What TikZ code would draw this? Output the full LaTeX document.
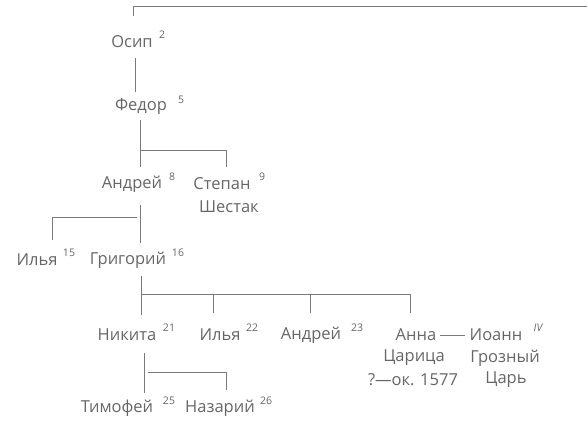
\documentclass[tikz,border=0pt]{standalone}
\usepackage{fontspec}
\setmainfont{Open Sans}
\definecolor{txt}{HTML}{666666}
\definecolor{ln}{HTML}{7A7A7A}
\begin{document}
\begin{tikzpicture}[x=1pt,y=-1pt,
  person/.style={text=txt,font=\fontsize{16.5}{19}\selectfont,inner sep=0pt,anchor=center},
  sup/.style={text=txt,font=\fontsize{10.5}{12}\selectfont,inner sep=0pt,anchor=center},
  link/.style={draw=ln,line width=0.9pt}]
\useasboundingbox (0,0) rectangle (588,422);
% names
\node[person] (osip) at (132,42) {Осип};
\node[sup] (s2) at (162,35) {2};
\node[person] (fedor) at (141,107) {Федор};
\node[sup] (s5) at (181,100) {5};
\node[person] (andrey8) at (132,184) {Андрей};
\node[sup] (s8) at (172,177) {8};
\node[person] (stepan) at (222,184) {Степан};
\node[sup] (s9) at (262,177) {9};
\node[person] (shestak) at (229,207) {Шестак};
\node[person] (ilya15) at (37,260) {Илья};
\node[sup] (s15) at (69,253) {15};
\node[person] (grigoriy) at (128,260) {Григорий};
\node[sup] (s16) at (178,253) {16};
\node[person] (nikita) at (127,335) {Никита};
\node[sup] (s21) at (169,328) {21};
\node[person] (ilya22) at (220,335) {Илья};
\node[sup] (s22) at (252,328) {22};
\node[person] (andrey23) at (311,335) {Андрей};
\node[sup] (s23) at (357,328) {23};
\node[person] (anna) at (416,335) {Анна};
\node[person] (tsaritsa) at (414,358) {Царица};
\node[person] (dates) at (413,380) {?—ок. 1577};
\node[person] (ioann) at (496,335) {Иоанн};
\node[sup] (sIV) at (538,328) {\itshape IV};
\node[person] (grozny) at (505,358) {Грозный};
\node[person] (tsar) at (506,380) {Царь};
\node[person] (timofey) at (117,408) {Тимофей};
\node[sup] (s25) at (169,401) {25};
\node[person] (nazariy) at (220,408) {Назарий};
\node[sup] (s26) at (266,401) {26};
% connector points
\coordinate (t0) at (133,16);
\coordinate (t1) at (133,6);
\coordinate (t2) at (587,6);
\coordinate (o1) at (135,58);
\coordinate (o2) at (135,92);
\coordinate (f1) at (140,120);
\coordinate (bf) at (140,150);
\coordinate (f2) at (140,167);
\coordinate (st) at (226,167);
\coordinate (a1) at (140,205);
\coordinate (a2) at (140,243);
\coordinate (ba) at (137,217);
\coordinate (il) at (52,240);
\coordinate (g1) at (141,276);
\coordinate (bg) at (141,294);
\coordinate (g2) at (141,315);
\coordinate (c22) at (213,313);
\coordinate (c23) at (310,313);
\coordinate (can) at (410,313);
\coordinate (n1) at (144,353);
\coordinate (n2) at (144,393);
\coordinate (bn) at (148,372);
\coordinate (cnz) at (226,390);
% connectors
\draw[link] (t0) -- (t1) -- (t2);
\draw[link] (o1) -- (o2);
\draw[link] (f1) -- (f2);
\draw[link] (bf) -| (st);
\draw[link] (a1) -- (a2);
\draw[link] (ba) -| (il);
\draw[link] (g1) -- (g2);
\draw[link] (bg) -| (can);
\draw[link] (bg -| c22) -- (c22);
\draw[link] (bg -| c23) -- (c23);
\draw[link] (n1) -- (n2);
\draw[link] (bn) -| (cnz);
\draw[link] ([xshift=4pt]anna.east) -- ([xshift=-4pt]ioann.west);
\end{tikzpicture}
\end{document}
